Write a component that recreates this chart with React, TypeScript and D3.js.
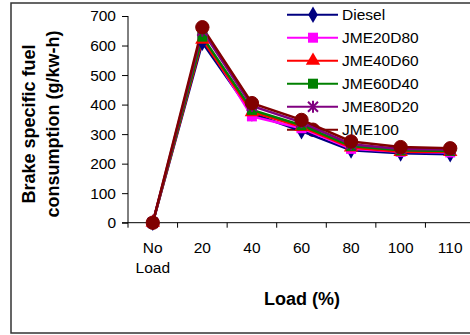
import React, { useEffect, useRef } from "react";
import { select, scaleBand, scaleLinear, axisLeft, line, symbol, symbolDiamond, symbolSquare, symbolTriangle, symbolCircle } from "d3";

const categories = ["No Load", "20", "40", "60", "80", "100", "110"];
const diesel = [0, 610, 370, 310, 245, 235, 232];
const jme20d80 = [0, 630, 360, 320, 250, 240, 238];
const jme40d60 = [0, 620, 375, 325, 255, 240, 240];
const jme60d40 = [0, 630, 382, 330, 260, 245, 243];
const jme80d20 = [0, 650, 395, 340, 266, 250, 248];
const jme100 = [0, 662, 405, 348, 275, 256, 252];
const yTicks = [0, 100, 200, 300, 400, 500, 600, 700];

const series = [
  { name: "Diesel", values: diesel, color: "#000080", marker: "diamond" },
  { name: "JME20D80", values: jme20d80, color: "#FF00FF", marker: "square" },
  { name: "JME40D60", values: jme40d60, color: "#FF0000", marker: "triangle" },
  { name: "JME60D40", values: jme60d40, color: "#008000", marker: "square" },
  { name: "JME80D20", values: jme80d20, color: "#800080", marker: "star" },
  { name: "JME100", values: jme100, color: "#800000", marker: "circle" },
];

function drawMarker(g, kind, color) {
  if (kind === "star") {
    const s = 5;
    g.append("path")
      .attr("d", `M${-s},${-s}L${s},${s}M${-s},${s}L${s},${-s}M0,${-s - 1}L0,${s + 1}`)
      .attr("stroke", color)
      .attr("stroke-width", 2)
      .attr("fill", "none");
    return;
  }
  const types = { diamond: symbolDiamond, square: symbolSquare, triangle: symbolTriangle, circle: symbolCircle };
  const sizes = { diamond: 80, square: 100, triangle: 90, circle: 140 };
  g.append("path")
    .attr("d", symbol().type(types[kind]).size(sizes[kind])())
    .attr("fill", color)
    .attr("stroke", kind === "circle" ? color : "none");
}

function App() {
  const svgRef = useRef(null);

  useEffect(() => {
    const svg = select(svgRef.current);
    svg.selectAll("*").remove();
    const font = "Arial, 'Liberation Sans', sans-serif";

    const xScale = scaleBand().domain(categories).range([128, 475]);
    const yScale = scaleLinear().domain([0, 700]).range([222.7, 16]);

    // frame
    svg.append("rect")
      .attr("x", 11).attr("y", 3).attr("width", 470).attr("height", 330)
      .attr("fill", "white").attr("stroke", "#333").attr("stroke-width", 1.5);

    // y axis
    const yAxis = axisLeft(yScale).tickValues(yTicks).tickSize(6).tickPadding(6);
    const yg = svg.append("g").attr("transform", "translate(128,0)").call(yAxis);
    yg.select(".domain").attr("stroke", "#000").attr("d", `M0,${yScale(700)}V${yScale(0)}`);
    yg.selectAll("text").attr("font-family", font).attr("font-size", 15.5).attr("fill", "#000");

    // x axis
    const xg = svg.append("g");
    xg.append("line")
      .attr("x1", 122).attr("x2", 475)
      .attr("y1", yScale(0)).attr("y2", yScale(0))
      .attr("stroke", "#000");
    categories.forEach((c, i) => {
      const edge = xScale(c);
      if (i > 0) {
        xg.append("line")
          .attr("x1", edge).attr("x2", edge)
          .attr("y1", yScale(0)).attr("y2", yScale(0) + 5)
          .attr("stroke", "#000");
      }
      const cx = edge + xScale.bandwidth() / 2;
      const parts = c === "No Load" ? ["No", "Load"] : [c];
      parts.forEach((p, j) => {
        xg.append("text")
          .attr("x", cx).attr("y", 252.5 + j * 20)
          .attr("text-anchor", "middle")
          .attr("font-family", font).attr("font-size", 15.5)
          .text(p);
      });
    });
    xg.append("line")
      .attr("x1", 128).attr("x2", 128)
      .attr("y1", yScale(0)).attr("y2", yScale(0) + 5)
      .attr("stroke", "#000");

    // axis titles
    svg.append("text")
      .attr("x", 302).attr("y", 304.5)
      .attr("text-anchor", "middle")
      .attr("font-family", font).attr("font-size", 18).attr("font-weight", "bold")
      .text("Load (%)");
    ["Brake specific fuel", "consumption (g/kw-h)"].forEach((t, i) => {
      svg.append("text")
        .attr("transform", `translate(${35 + i * 23.5},124) rotate(-90)`)
        .attr("text-anchor", "middle")
        .attr("font-family", font).attr("font-size", 18).attr("font-weight", "bold")
        .text(t);
    });

    // legend
    series.forEach((s, i) => {
      const y = 14.7 + i * 23;
      const lg = svg.append("g");
      lg.append("line")
        .attr("x1", 287).attr("x2", 338).attr("y1", y).attr("y2", y)
        .attr("stroke", s.color).attr("stroke-width", 2);
      drawMarker(lg.append("g").attr("transform", `translate(313,${y})`), s.marker, s.color);
      lg.append("text")
        .attr("x", 342).attr("y", y + 5.5)
        .attr("font-family", font).attr("font-size", 15.5)
        .text(s.name);
    });

    // lines and markers
    const lineGen = line()
      .x((d, i) => xScale(categories[i]) + xScale.bandwidth() / 2)
      .y((d) => yScale(d));
    series.forEach((s) => {
      svg.append("path")
        .datum(s.values)
        .attr("d", lineGen)
        .attr("fill", "none")
        .attr("stroke", s.color)
        .attr("stroke-width", 2.5);
    });
    series.forEach((s) => {
      s.values.forEach((v, i) => {
        const cx = xScale(categories[i]) + xScale.bandwidth() / 2;
        drawMarker(svg.append("g").attr("transform", `translate(${cx},${yScale(v)})`), s.marker, s.color);
      });
    });
  }, []);

  return (
    <svg
      ref={svgRef}
      width={470}
      height={335}
      style={{ position: "absolute", left: 0, top: 0, background: "white" }}
    ></svg>
  );
}

export default App;
